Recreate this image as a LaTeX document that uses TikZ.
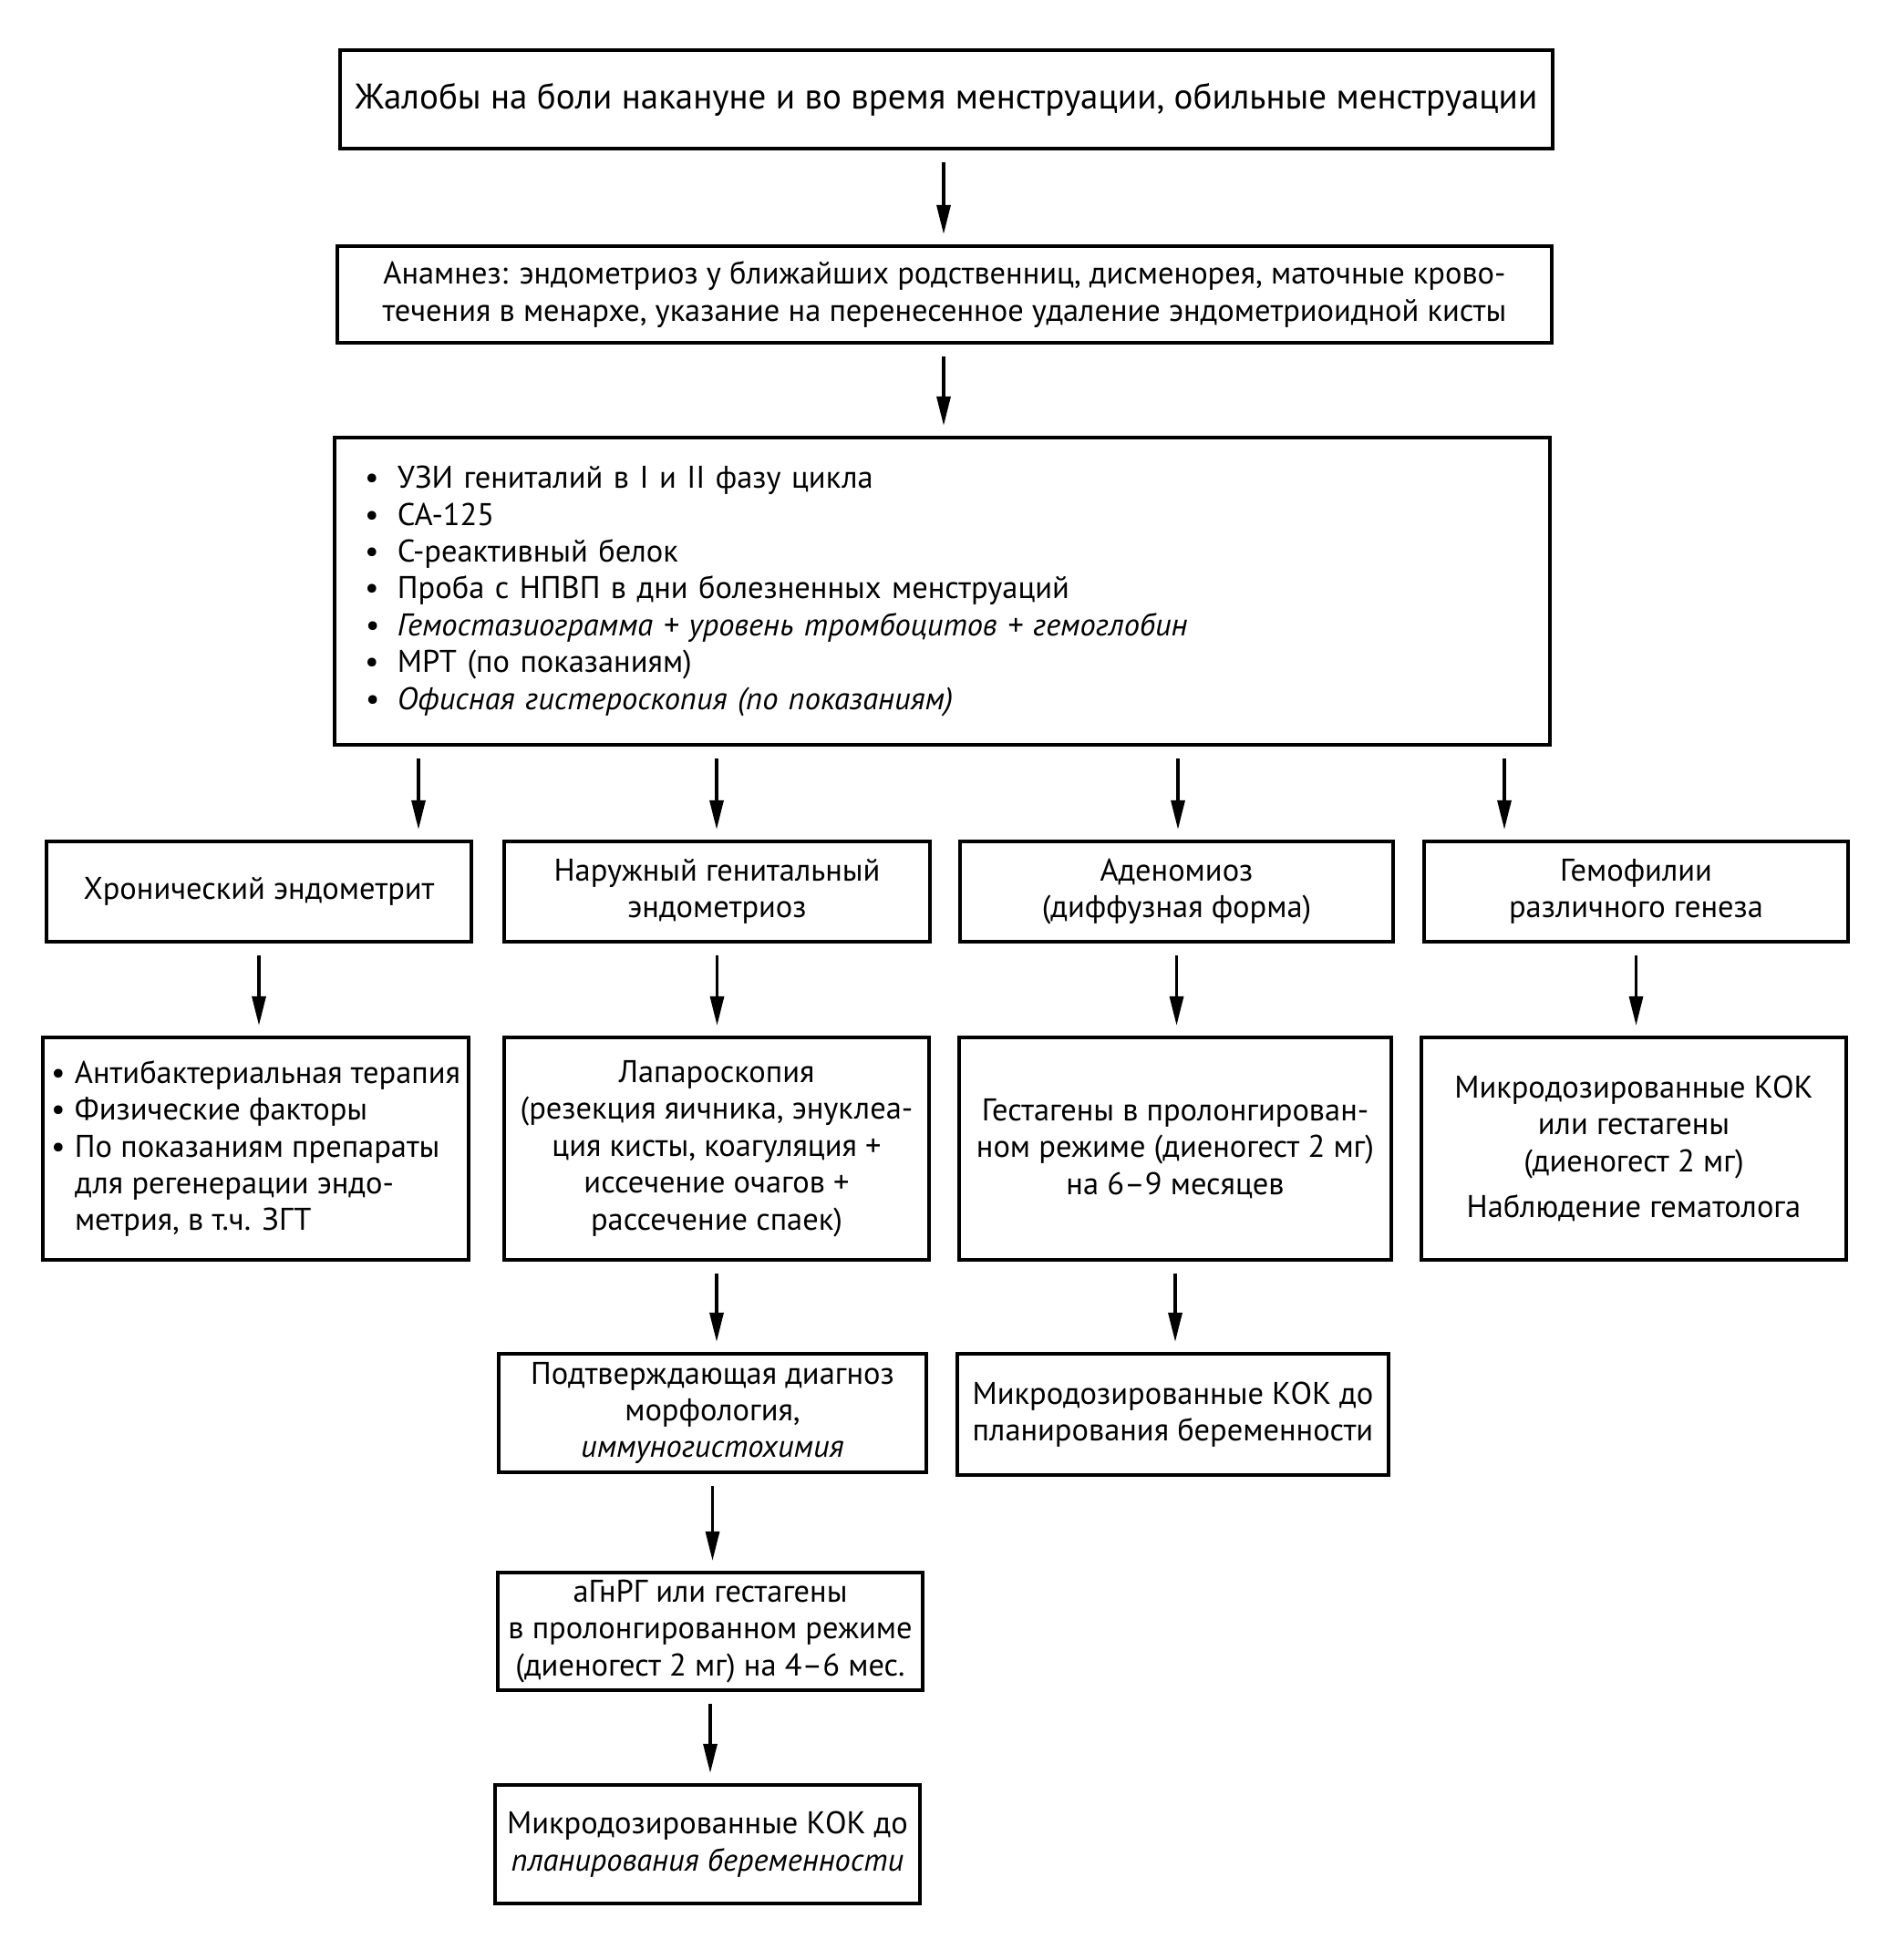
\documentclass[tikz,border=0pt]{standalone}
\usepackage{fontspec}
\setmainfont{PT Sans}
\usetikzlibrary{arrows.meta}
\newcommand{\bitem}[1][0.36cm]{\makebox[#1][l]{\textbullet}}

\begin{document}
\begin{tikzpicture}[
    box/.style={draw, line width=1.2pt, inner sep=0pt, align=center,
        font=\fontsize{9.8}{11.5}\selectfont},
    arr/.style={-{Triangle[length=0.32cm, width=0.15cm]}, line width=0.9pt,
        shorten <=0.13cm, shorten >=0.11cm}
]
    \useasboundingbox (0,0) rectangle (20.72,-21.5);

    % Жалобы и анамнез
    \node[box, minimum width=13.30cm, minimum height=1.08cm,
          font=\fontsize{11.1}{12}\selectfont] (compl) at (10.38,-1.09)
        {Жалобы на боли накануне и во время менструации, обильные менструации};
    \node[box, minimum width=13.32cm, minimum height=1.06cm] (anam) at (10.36,-3.23)
        {Анамнез: эндометриоз у ближайших родственниц, дисменорея, маточные крово-\\
         течения в менархе, указание на перенесенное удаление эндометриоидной кисты};

    % Обследование
    \node[box, align=left, text width=12.67cm, inner xsep=0.33cm,
          minimum height=3.37cm] (tests) at (10.335,-6.485)
        {\bitem УЗИ гениталий в I и II фазу цикла\\
         \bitem СА-125\\
         \bitem С-реактивный белок\\
         \bitem Проба с НПВП в дни болезненных менструаций\\
         \textit{\bitem Гемостазиограмма + уровень тромбоцитов + гемоглобин}\\
         \bitem МРТ (по показаниям)\\
         \textit{\bitem Офисная гистероскопия (по показаниям)}};

    % Диагнозы
    \node[box, minimum width=4.66cm, minimum height=1.10cm] (chr) at (2.84,-9.78)
        {Хронический эндометрит};
    \node[box, minimum width=4.67cm, minimum height=1.10cm] (ext) at (7.865,-9.78)
        {Наружный генитальный\\эндометриоз};
    \node[box, minimum width=4.75cm, minimum height=1.10cm] (aden) at (12.905,-9.78)
        {Аденомиоз\\(диффузная форма)};
    \node[box, minimum width=4.65cm, minimum height=1.10cm] (hem) at (17.945,-9.78)
        {Гемофилии\\различного генеза};

    % Лечение
    \node[box, align=left, minimum width=4.67cm, minimum height=2.44cm] (chrT) at (2.805,-12.60)
        {\bitem[0.26cm]Антибактериальная терапия\\
         \bitem[0.26cm]Физические факторы\\
         \bitem[0.26cm]По показаниям препараты\\
         \hspace*{0.26cm}для регенерации эндо-\\
         \hspace*{0.26cm}метрия, в т.ч. ЗГТ};
    \node[box, minimum width=4.66cm, minimum height=2.44cm] (extT) at (7.86,-12.60)
        {Лапароскопия\\(резекция яичника, энуклеа-\\ция кисты, коагуляция +\\
         иссечение очагов +\\рассечение спаек)};
    \node[box, minimum width=4.74cm, minimum height=2.44cm] (adenT) at (12.89,-12.60)
        {Гестагены в пролонгирован-\\ном режиме (диеногест 2 мг)\\на 6–9 месяцев};
    \node[box, minimum width=4.66cm, minimum height=2.44cm] (hemT) at (17.92,-12.60)
        {Микродозированные КОК\\или гестагены\\(диеногест 2 мг)\\[0.1cm]
         Наблюдение гематолога};

    % Дальнейшие шаги
    \node[box, minimum width=4.69cm, minimum height=1.30cm] (morph) at (7.815,-15.50)
        {Подтверждающая диагноз\\морфология,\\\textit{иммуногистохимия}};
    \node[box, minimum width=4.73cm, minimum height=1.33cm] (adenK) at (12.865,-15.515)
        {Микродозированные КОК до\\планирования беременности};
    \node[box, minimum width=4.66cm, minimum height=1.29cm] (gnrh) at (7.79,-17.895)
        {аГнРГ или гестагены\\в пролонгированном режиме\\(диеногест 2 мг) на 4–6 мес.};
    \node[box, minimum width=4.66cm, minimum height=1.30cm] (extK) at (7.76,-20.23)
        {Микродозированные КОК до\\\textit{планирования беременности}};

    % Стрелки
    \draw[arr] (compl.south -| 10.35,0) -- (anam.north -| 10.35,0);
    \draw[arr] (anam.south -| 10.35,0) -- (tests.north -| 10.35,0);
    \foreach \x/\n in {4.59/chr, 7.86/ext, 12.92/aden, 16.50/hem}
        \draw[arr] (tests.south -| \x,0) -- (\n.north -| \x,0);
    \foreach \a/\b in {chr/chrT, ext/extT, aden/adenT, hem/hemT}
        \draw[arr] (\a.south) -- (\a.south |- \b.north);
    \draw[arr] (extT.south) -- (extT.south |- morph.north);
    \draw[arr] (adenT.south) -- (adenT.south |- adenK.north);
    \draw[arr] (morph.south) -- (morph.south |- gnrh.north);
    \draw[arr] (gnrh.south) -- (gnrh.south |- extK.north);
\end{tikzpicture}
\end{document}
